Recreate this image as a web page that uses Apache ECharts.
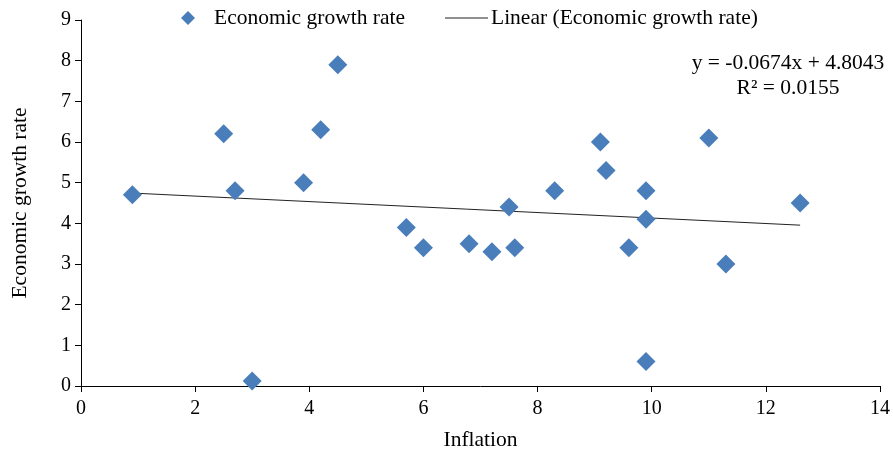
<!DOCTYPE html>
<html>
<head>
<meta charset="utf-8">
<script src="https://cdn.jsdelivr.net/npm/echarts@6/dist/echarts.min.js"></script>
<style>html,body{margin:0;padding:0;background:#fff;}#c{width:893px;height:456px;}</style>
</head>
<body>
<div id="c"></div>
<script>
const inflation = [0.9, 2.5, 2.7, 3.0, 3.9, 4.2, 4.5, 5.7, 6.0, 6.8, 7.2, 7.5, 7.6, 8.3, 9.1, 9.2, 9.6, 9.9, 9.9, 9.9, 11.0, 11.3, 12.6];
const growth    = [4.7, 6.2, 4.8, 0.12, 5.0, 6.3, 7.9, 3.9, 3.4, 3.5, 3.3, 4.4, 3.4, 4.8, 6.0, 5.3, 3.4, 4.8, 4.1, 0.6, 6.1, 3.0, 4.5];
const trendX = [0.9, 12.6];
const trendY = [4.7436, 3.9551];
const seriesNames = ['Economic growth rate', 'Linear (Economic growth rate)'];
const equationLines = ['y = -0.0674x + 4.8043', 'R\u00B2 = 0.0155'];

const FONT = '"Liberation Serif", "Times New Roman", serif';
const FS = 21.5;
const chart = echarts.init(document.getElementById('c'), null, {renderer: 'canvas'});
chart.setOption({
  animation: false,
  backgroundColor: '#fff',
  textStyle: {fontFamily: FONT},
  grid: {left: 81, right: 12, top: 20, bottom: 69},
  legend: [
    {data: [{name: seriesNames[0], icon: 'diamond'}], left: 176, top: 2, itemWidth: 14, itemHeight: 14, itemGap: 0,
     textStyle: {fontFamily: FONT, fontSize: FS, color: '#000', padding: [0, 0, 0, 14]}},
    {data: [{name: seriesNames[1], icon: 'rect'}], left: 440, top: 2, itemWidth: 43, itemHeight: 1, itemGap: 0,
     textStyle: {fontFamily: FONT, fontSize: FS, color: '#000', padding: [0, 0, 0, -2]}}
  ],
  xAxis: {
    type: 'value', min: 0, max: 14, interval: 2,
    name: 'Inflation', nameLocation: 'middle', nameGap: 43,
    nameTextStyle: {fontFamily: FONT, fontSize: FS, color: '#000'},
    axisLine: {show: true, lineStyle: {color: '#000', width: 1}},
    axisTick: {show: true, length: 6, lineStyle: {color: '#000'}},
    axisLabel: {fontFamily: FONT, fontSize: 20, color: '#000', margin: 13},
    splitLine: {show: false}
  },
  yAxis: {
    type: 'value', min: 0, max: 9, interval: 1,
    name: 'Economic growth rate', nameLocation: 'middle', nameGap: 50, nameRotate: 90,
    nameTextStyle: {fontFamily: FONT, fontSize: FS, color: '#000'},
    axisLine: {show: true, lineStyle: {color: '#000', width: 1}},
    axisTick: {show: true, length: 6, lineStyle: {color: '#000'}},
    axisLabel: {fontFamily: FONT, fontSize: 20, color: '#000', margin: 10},
    splitLine: {show: false}
  },
  series: [
    {
      name: seriesNames[0], type: 'scatter', symbol: 'diamond', symbolSize: 19,
      itemStyle: {color: '#4A7EBB', opacity: 1},
      data: inflation.map((x, i) => [x, growth[i]]), z: 3
    },
    {
      name: seriesNames[1], type: 'line', symbol: 'none',
      lineStyle: {color: '#222', width: 1},
      itemStyle: {color: '#222'},
      data: trendX.map((x, i) => [x, trendY[i]]), z: 2
    }
  ],
  graphic: [
    {type: 'text', x: 788, y: 63, style: {text: equationLines[0], font: FS + 'px ' + FONT, fill: '#000', align: 'center', verticalAlign: 'middle'}},
    {type: 'text', x: 788, y: 88, style: {text: equationLines[1], font: FS + 'px ' + FONT, fill: '#000', align: 'center', verticalAlign: 'middle'}}
  ]
});
</script>
</body>
</html>
